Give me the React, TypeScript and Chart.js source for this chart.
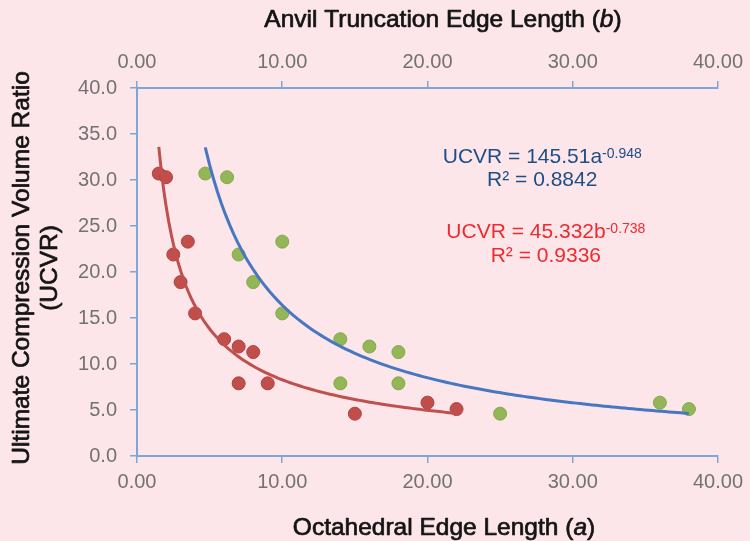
import React, { useEffect, useRef } from "react";
import { Chart, registerables } from "chart.js";

Chart.register(...registerables);

// ---- Data ----
const ucvr = [30.7, 30.3, 23.3, 21.9, 18.9, 15.5, 12.7, 11.9, 11.3, 7.9, 7.9, 4.6, 5.8, 5.1];
const octahedralEdgeA = [4.7, 6.2, 10, 7, 8, 10, 14, 16, 18, 14, 18, 25, 36, 38];
const anvilTruncationB = [1.5, 2, 3.5, 2.5, 3, 4, 6, 7, 8, 7, 9, 15, 20, 22];

// Power trendline coefficients as printed on the chart
const aCoef = 145.51;
const aExp = -0.948;
const aR2 = "0.8842";
const bCoef = 45.332;
const bExp = -0.738;
const bR2 = "0.9336";

const xTicksMin = 0;
const xTicksMax = 40;
const xTickStep = 10;
const yTicksMin = 0;
const yTicksMax = 40;
const yTickStep = 5;

const BG = "#fce6ea";
const AXIS = "#7ea6d9";
const TICK = "#727272";
const FAMILY = "'Liberation Sans', Arial, sans-serif";
const RED = "#c24e4b";
const GREEN = "#93b657";
const BLUE_LINE = "#4677c0";
const RED_LINE = "#c0504d";
const BLUE_TEXT = "#1f4e86";
const RED_TEXT = "#ee2b2e";
const TITLE = "#141414";

function trend(xs: number[], coef: number, exp: number) {
  const lo = Math.min(...xs);
  const hi = Math.max(...xs);
  const n = 120;
  const pts: { x: number; y: number }[] = [];
  for (let i = 0; i <= n; i++) {
    const x = lo + ((hi - lo) * i) / n;
    pts.push({ x, y: coef * Math.pow(x, exp) });
  }
  return pts;
}

type Run = { text: string; font: string; dy?: number };

function drawRuns(
  ctx: CanvasRenderingContext2D,
  runs: Run[],
  cx: number,
  baseline: number,
  color: string,
  stroke = 0
) {
  let total = 0;
  const widths = runs.map((r) => {
    ctx.font = r.font;
    const w = ctx.measureText(r.text).width;
    total += w;
    return w;
  });
  let x = cx - total / 2;
  ctx.fillStyle = color;
  ctx.strokeStyle = color;
  ctx.lineWidth = stroke;
  ctx.lineJoin = "round";
  ctx.textBaseline = "alphabetic";
  ctx.textAlign = "left";
  runs.forEach((r, i) => {
    ctx.font = r.font;
    ctx.fillText(r.text, x, baseline + (r.dy || 0));
    if (stroke > 0) ctx.strokeText(r.text, x, baseline + (r.dy || 0));
    x += widths[i];
  });
}

const bgPlugin = {
  id: "bgFill",
  beforeDraw(chart: any) {
    const ctx = chart.ctx;
    ctx.save();
    ctx.fillStyle = BG;
    ctx.fillRect(0, 0, chart.width, chart.height);
    ctx.restore();
  },
};

const textPlugin = {
  id: "texts",
  afterDraw(chart: any) {
    const ctx: CanvasRenderingContext2D = chart.ctx;
    const xs = chart.scales.x;
    const ys = chart.scales.y;
    const titleFont = `24.5px ${FAMILY}`;
    const titleItalic = `italic 24.5px ${FAMILY}`;
    const sw = 0.7;
    ctx.save();
    // top title
    drawRuns(
      ctx,
      [
        { text: "Anvil Truncation Edge Length (", font: titleFont },
        { text: "b", font: titleItalic },
        { text: ")", font: titleFont },
      ],
      443,
      27,
      TITLE,
      sw
    );
    // bottom title
    drawRuns(
      ctx,
      [
        { text: "Octahedral Edge Length (", font: titleFont },
        { text: "a", font: titleItalic },
        { text: ")", font: titleFont },
      ],
      444,
      535,
      TITLE,
      sw
    );
    // y title
    ctx.save();
    ctx.translate(0, 268);
    ctx.rotate(-Math.PI / 2);
    drawRuns(ctx, [{ text: "Ultimate Compression Volume Ratio", font: `24.5px ${FAMILY}` }], 0, 28.5, TITLE, sw);
    drawRuns(ctx, [{ text: "(UCVR)", font: `24.5px ${FAMILY}` }], 0, 57, TITLE, sw);
    ctx.restore();

    // equations
    const eqFont = `21px ${FAMILY}`;
    const supFont = `14px ${FAMILY}`;
    drawRuns(
      ctx,
      [
        { text: `UCVR = ${aCoef}a`, font: eqFont },
        { text: `${aExp}`, font: supFont, dy: -5 },
      ],
      xs.getPixelForValue(27.9),
      ys.getPixelForValue(31.9),
      BLUE_TEXT
    );
    drawRuns(ctx, [{ text: `R² = ${aR2}`, font: eqFont }], xs.getPixelForValue(27.9), ys.getPixelForValue(29.3), BLUE_TEXT);
    drawRuns(
      ctx,
      [
        { text: `UCVR = ${bCoef}b`, font: eqFont },
        { text: `${bExp}`, font: supFont, dy: -5 },
      ],
      xs.getPixelForValue(28.15),
      ys.getPixelForValue(23.65),
      RED_TEXT
    );
    drawRuns(ctx, [{ text: `R² = ${bR2}`, font: eqFont }], xs.getPixelForValue(28.15), ys.getPixelForValue(21.1), RED_TEXT);
    ctx.restore();
  },
};

export default function App() {
  const ref = useRef<HTMLCanvasElement | null>(null);

  useEffect(() => {
    document.body.style.margin = "0";
    document.body.style.background = BG;
    const canvas = ref.current;
    if (!canvas) return;

    const tickFont = { family: FAMILY, size: 20 };
    const xCommon = (height: number, position: "top" | "bottom") => ({
      type: "linear" as const,
      position,
      min: xTicksMin,
      max: xTicksMax,
      ticks: {
        stepSize: xTickStep,
        color: TICK,
        font: tickFont,
        padding: 7,
        maxRotation: 0,
        callback: (v: any) => Number(v).toFixed(2),
      },
      grid: { drawOnChartArea: false, drawTicks: true, tickLength: 7, color: AXIS, lineWidth: 1.5 },
      border: { display: true, color: AXIS, width: 2 },
      title: { display: false },
      afterFit: (s: any) => {
        s.height = height;
      },
    });

    const chart = new Chart(canvas, {
      type: "scatter",
      data: {
        datasets: [
          {
            type: "line",
            label: "Trend a",
            data: trend(octahedralEdgeA, aCoef, aExp),
            xAxisID: "x",
            yAxisID: "y",
            borderColor: BLUE_LINE,
            borderWidth: 3,
            pointRadius: 0,
            tension: 0,
            fill: false,
            order: 0,
          } as any,
          {
            type: "line",
            label: "Trend b",
            data: trend(anvilTruncationB, bCoef, bExp),
            xAxisID: "x2",
            yAxisID: "y",
            borderColor: RED_LINE,
            borderWidth: 3,
            pointRadius: 0,
            tension: 0,
            fill: false,
            order: 0,
          } as any,
          {
            label: "Octahedral edge (a)",
            data: octahedralEdgeA.map((x, i) => ({ x, y: ucvr[i] })),
            xAxisID: "x",
            yAxisID: "y",
            backgroundColor: GREEN,
            borderColor: "#86a84c",
            borderWidth: 1,
            pointRadius: 6.5,
            order: 1,
          },
          {
            label: "Anvil truncation (b)",
            data: anvilTruncationB.map((x, i) => ({ x, y: ucvr[i] })),
            xAxisID: "x2",
            yAxisID: "y",
            backgroundColor: RED,
            borderColor: "#b04441",
            borderWidth: 1,
            pointRadius: 6.5,
            order: 1,
          },
        ],
      },
      options: {
        responsive: false,
        animation: false,
        layout: { padding: { left: 0, right: 30, top: 0, bottom: 0 } },
        plugins: {
          legend: { display: false },
          tooltip: { enabled: false },
          title: { display: false },
        },
        scales: {
          x: xCommon(85, "bottom"),
          x2: xCommon(88, "top"),
          y: {
            type: "linear",
            position: "left",
            min: yTicksMin,
            max: yTicksMax,
            ticks: {
              stepSize: yTickStep,
              color: TICK,
              font: tickFont,
              padding: 13,
              callback: (v: any) => Number(v).toFixed(1),
            },
            grid: { drawOnChartArea: false, drawTicks: true, tickLength: 7, color: AXIS, lineWidth: 1.5 },
            border: { display: true, color: AXIS, width: 2 },
            afterFit: (s: any) => {
              s.width = 137;
            },
          },
        },
      } as any,
      plugins: [bgPlugin, textPlugin],
    });

    return () => {
      chart.destroy();
    };
  }, []);

  return (
    <div style={{ position: "absolute", left: 0, top: 0, width: 750, height: 541, background: BG }}>
      <canvas ref={ref} width={750} height={541} style={{ display: "block", width: 750, height: 541 }} />
    </div>
  );
}
